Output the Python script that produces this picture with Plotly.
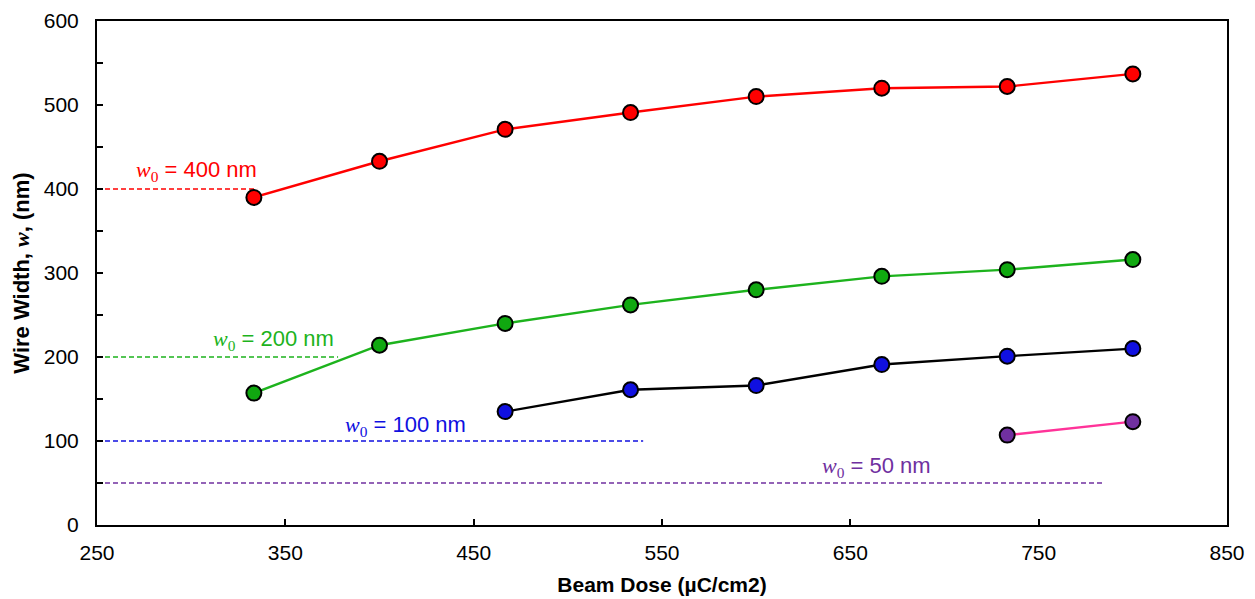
import plotly.graph_objects as go

dose = [333.3, 400, 466.7, 533.3, 600, 666.7, 733.3, 800]
w400 = [390, 433, 471, 491, 510, 520, 522, 537]
w200 = [157, 214, 240, 262, 280, 296, 304, 316]
dose100 = [466.7, 533.3, 600, 666.7, 733.3, 800]
w100 = [135, 161, 166, 191, 201, 210]
dose50 = [733.3, 800]
w50 = [107, 123]

ref_levels = [400, 200, 100, 50]
ref_ends = [335, 378, 540, 785]
ref_colors = ["#FF0000", "#1DB31D", "#1010E0", "#7030A0"]
ref_label_x = [303, 343.5, 414, 664]
ref_label_y = [422, 220, 118, 69]

FONT = "Arial, Liberation Sans, sans-serif"
SERIF = "Times New Roman, Liberation Serif, DejaVu Serif, serif"

fig = go.Figure()

for lvl, end, col in zip(ref_levels, ref_ends, ref_colors):
    fig.add_trace(go.Scatter(x=[250, end], y=[lvl, lvl], mode="lines",
                             line=dict(color=col, width=1.5, dash="5px,3px"),
                             showlegend=False, hoverinfo="skip"))

series = [
    (dose, w400, "#FF0000", "#FF0000"),
    (dose, w200, "#1DB31D", "#10A810"),
    (dose100, w100, "#000000", "#1010E0"),
    (dose50, w50, "#FF3399", "#7030A0"),
]
for xs, ys, lc, mc in series:
    fig.add_trace(go.Scatter(x=xs, y=ys, mode="lines+markers",
                             line=dict(color=lc, width=2.4),
                             marker=dict(size=15, color=mc, line=dict(color="black", width=2)),
                             showlegend=False))

for lvl, col, lx, ly in zip(ref_levels, ref_colors, ref_label_x, ref_label_y):
    fig.add_annotation(x=lx, y=ly, xref="x", yref="y", showarrow=False,
                       text=f"<span style='font-family:{SERIF}'><i>w</i><sub>0</sub></span> = {lvl} nm",
                       font=dict(family=FONT, size=22, color=col), xanchor="center", yanchor="middle")

fig.update_layout(
    width=1255, height=599,
    margin=dict(l=97, r=28, t=21, b=74),
    paper_bgcolor="white", plot_bgcolor="white",
    font=dict(family=FONT, size=21, color="black"),
    showlegend=False,
)
fig.update_xaxes(range=[250, 850], tick0=250, dtick=100, ticks="inside", ticklen=6,
                 tickcolor="black", tickwidth=1.5, ticklabelstandoff=8,
                 tickfont=dict(size=21), automargin=False,
                 showline=True, linecolor="black", linewidth=2, mirror=True,
                 showgrid=False, zeroline=False,
                 title=dict(text="<b>Beam Dose (µC/cm2)</b>", font=dict(size=21), standoff=14))
fig.update_yaxes(range=[0, 600], dtick=100, ticks="inside", ticklen=6,
                 tickcolor="black", tickwidth=1.5, ticklabelstandoff=12,
                 tickfont=dict(size=21), automargin=False,
                 minor=dict(dtick=50, ticks="inside", ticklen=6, tickcolor="black", tickwidth=1.5),
                 showline=True, linecolor="black", linewidth=2, mirror=True,
                 showgrid=False, zeroline=False,
                 title=dict(text=f"<b>Wire Width, <span style='font-family:{SERIF}'><i>w</i></span>, (nm)</b>",
                            font=dict(size=22), standoff=8))

fig.write_html("out.html")
